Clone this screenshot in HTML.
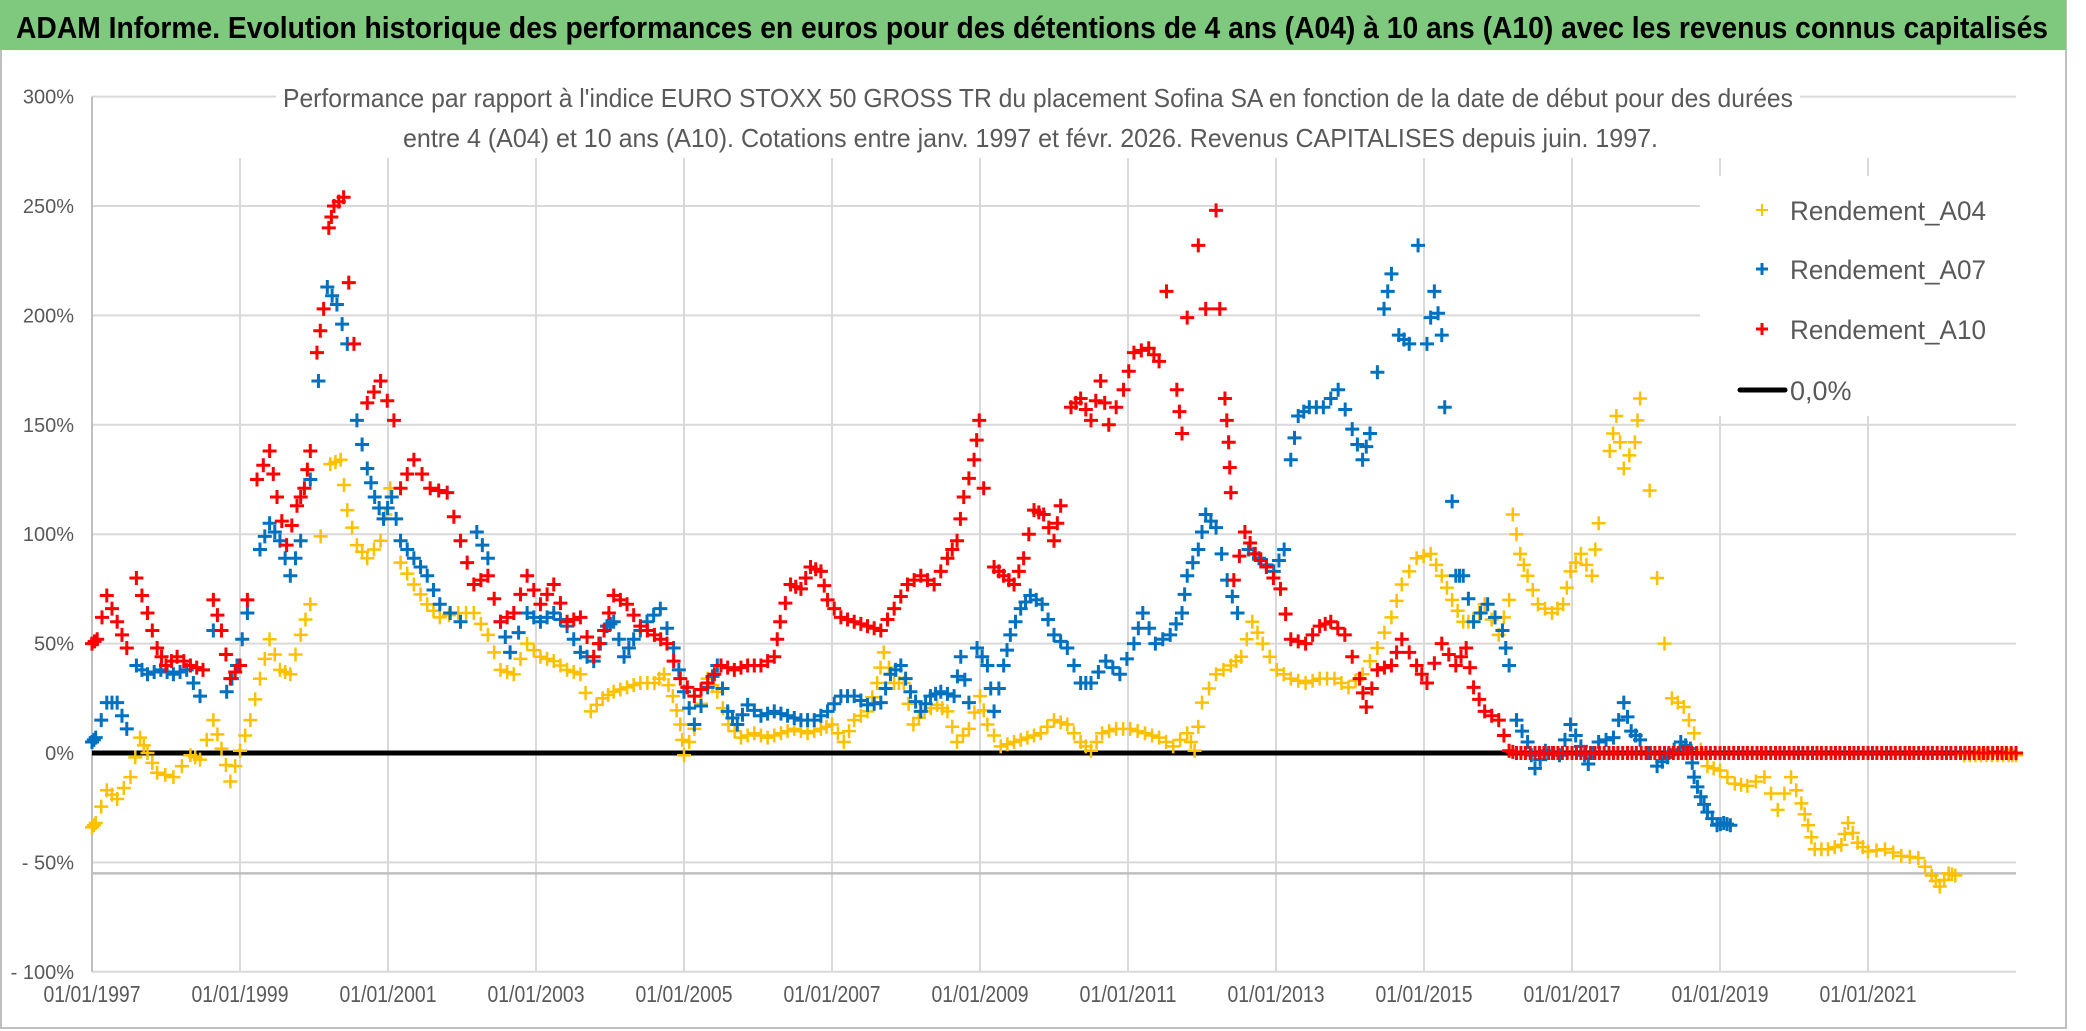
<!DOCTYPE html>
<html><head><meta charset="utf-8"><style>
html,body{margin:0;padding:0;background:#fff;}
svg{display:block;}
text{font-family:"Liberation Sans",sans-serif;}
</style></head><body>
<svg id="chart" width="2086" height="1031" viewBox="0 0 2086 1031" xmlns="http://www.w3.org/2000/svg">
<rect x="0" y="0" width="2086" height="1031" fill="#fff"/>
<rect x="1" y="1" width="2065" height="1027" fill="none" stroke="#bfbfbf" stroke-width="2"/>
<rect x="0" y="0" width="2066" height="50" fill="#7fc97f"/>
<text x="16" y="38" font-size="31" font-weight="bold" fill="#000" textLength="2032" lengthAdjust="spacingAndGlyphs">ADAM Informe. Evolution historique des performances en euros pour des détentions de 4 ans (A04) à 10 ans (A10) avec les revenus connus capitalisés</text>
<g id="grid"></g>
<g id="axes"></g>
<rect x="276" y="78" width="1524" height="78" fill="#fff"/>
<text x="283" y="107" font-size="26" fill="#595959" textLength="1510" lengthAdjust="spacingAndGlyphs">Performance par rapport à l'indice EURO STOXX 50 GROSS TR  du placement Sofina SA en fonction de la date de début pour des durées</text>
<text x="403" y="147" font-size="26" fill="#595959" textLength="1255" lengthAdjust="spacingAndGlyphs">entre 4 (A04) et 10 ans (A10). Cotations entre janv. 1997 et févr. 2026. Revenus CAPITALISES depuis juin. 1997.</text>
<rect x="1700" y="176" width="330" height="240" fill="#fff"/>
<g id="series"></g>
<g id="legend">
  <g>
    <path d="M1756 210h12M1762 204v12" stroke="#ffc000" stroke-width="2"/>
    <text x="1790" y="220" font-size="27" fill="#595959" textLength="196" lengthAdjust="spacingAndGlyphs">Rendement_A04</text>
  </g>
  <g>
    <path d="M1756 269h12M1762 263v12" stroke="#0070c0" stroke-width="3"/>
    <text x="1790" y="279" font-size="27" fill="#595959" textLength="196" lengthAdjust="spacingAndGlyphs">Rendement_A07</text>
  </g>
  <g>
    <path d="M1756 329h12M1762 323v12" stroke="#ff0000" stroke-width="3"/>
    <text x="1790" y="339" font-size="27" fill="#595959" textLength="196" lengthAdjust="spacingAndGlyphs">Rendement_A10</text>
  </g>
  <g>
    <line x1="1740" y1="390" x2="1785" y2="390" stroke="#000" stroke-width="5" stroke-linecap="round"/>
    <text x="1790" y="400" font-size="27" fill="#595959">0,0%</text>
  </g>
</g>
</svg>
<script>
const yTicks=[300,250,200,150,100,50,0,-50,-100];
const yTickLabels=["300%","250%","200%","150%","100%","50%","0%","- 50%","- 100%"];
const xTicks=[1997,1999,2001,2003,2005,2007,2009,2011,2013,2015,2017,2019,2021];
const xTickLabels=["01/01/1997","01/01/1999","01/01/2001","01/01/2003","01/01/2005","01/01/2007","01/01/2009","01/01/2011","01/01/2013","01/01/2015","01/01/2017","01/01/2019","01/01/2021"];
const minLineValue=-55;

const a10Years=[1997.0,1997.07,1997.2,1997.34,1997.47,1997.6,1997.75,1997.88,1998.0,1998.15,1998.33,1998.5,1998.64,1998.75,1998.87,1999.0,1999.1,1999.23,1999.4,1999.5,1999.63,1999.77,1999.87,1999.95,2000.04,2000.13,2000.2,2000.27,2000.4,2000.47,2000.54,2000.72,2000.9,2001.08,2001.17,2001.35,2001.57,2001.8,2001.98,2002.16,2002.35,2002.52,2002.7,2002.88,2003.06,2003.24,2003.42,2003.6,2003.78,2003.92,2004.05,2004.23,2004.41,2004.6,2004.77,2004.95,2005.14,2005.32,2005.5,2005.68,2005.86,2006.04,2006.22,2006.3,2006.44,2006.58,2006.71,2006.85,2006.94,2007.12,2007.3,2007.48,2007.66,2007.84,2008.02,2008.2,2008.38,2008.56,2008.69,2008.78,2008.92,2008.99,2009.05,2009.19,2009.32,2009.46,2009.59,2009.73,2009.86,2010.0,2010.09,2010.23,2010.36,2010.5,2010.63,2010.74,2010.94,2011.08,2011.28,2011.42,2011.52,2011.66,2011.73,2011.8,2011.95,2012.05,2012.19,2012.24,2012.31,2012.36,2012.39,2012.43,2012.58,2012.72,2012.87,2013.06,2013.2,2013.4,2013.59,2013.74,2013.93,2014.13,2014.22,2014.37,2014.56,2014.7,2014.9,2015.04,2015.24,2015.43,2015.57,2015.67,2015.82,2016.01,2016.15,2016.25,2016.37,2016.5,2016.62,2016.75,2016.87,2017.0,2017.12,2017.25,2017.37,2017.5,2017.62,2017.75,2017.87,2018.0,2018.12,2018.25,2018.37,2018.5,2018.62,2018.75,2018.87,2019.0,2019.12,2019.25,2019.37,2019.5,2019.62,2019.75,2019.87,2020.0,2020.12,2020.25,2020.37,2020.5,2020.62,2020.75,2020.87,2021.0,2021.12,2021.25,2021.37,2021.5,2021.62,2021.75,2021.87,2022.0,2022.12,2022.25,2022.37,2022.5,2022.62,2022.75,2022.87,2023.0];
const a10Values=[50,52,72,60,48,80,64,48,40,44,40,38,70,56,34,40,70,125,138,117,95,113,121,138,183,203,240,250,254,215,187,160,170,152,121,134,121,119,97,77,81,60,64,81,68,77,60,62,44,56,72,68,58,54,50,34,26,32,40,38,40,40,44,60,77,75,85,83,70,62,60,58,56,66,77,81,77,89,97,117,134,152,121,85,81,77,89,111,109,97,113,158,162,152,170,150,166,183,185,179,211,166,146,199,232,203,248,203,162,142,119,79,101,91,85,75,52,50,58,60,54,34,21,38,40,52,40,32,50,40,48,30,19,15,1,0,0,0,0,0,0,0,0,0,0,0,0,0,0,0,0,0,0,0,0,0,0,0,0,0,0,0,0,0,0,0,0,0,0,0,0,0,0,0,0,0,0,0,0,0,0,0,0,0,0,0,0,0,0,0,0];

const a07Years=[1997.0,1997.05,1997.2,1997.34,1997.47,1997.6,1997.75,1997.93,1998.1,1998.28,1998.46,1998.64,1998.82,1998.96,1999.1,1999.27,1999.4,1999.54,1999.68,1999.82,1999.95,2000.06,2000.18,2000.31,2000.45,2000.58,2000.72,2000.82,2000.94,2001.05,2001.17,2001.35,2001.53,2001.7,2001.98,2002.2,2002.35,2002.52,2002.65,2002.88,2003.06,2003.24,2003.42,2003.6,2003.78,2003.96,2004.05,2004.19,2004.32,2004.5,2004.68,2004.86,2005.0,2005.14,2005.32,2005.45,2005.59,2005.72,2005.86,2006.04,2006.22,2006.4,2006.58,2006.76,2006.94,2007.12,2007.3,2007.48,2007.66,2007.79,2007.93,2008.06,2008.2,2008.33,2008.47,2008.65,2008.74,2008.85,2008.96,2009.1,2009.19,2009.32,2009.41,2009.55,2009.68,2009.84,2010.0,2010.18,2010.36,2010.5,2010.7,2010.89,2011.08,2011.2,2011.37,2011.57,2011.73,2011.8,2011.95,2012.05,2012.19,2012.34,2012.48,2012.63,2012.77,2012.97,2013.11,2013.2,2013.3,2013.45,2013.64,2013.84,2014.03,2014.17,2014.27,2014.37,2014.46,2014.56,2014.66,2014.8,2014.92,2015.04,2015.14,2015.24,2015.28,2015.38,2015.43,2015.53,2015.67,2015.86,2016.06,2016.15,2016.25,2016.4,2016.5,2016.64,2016.83,2016.98,2017.12,2017.22,2017.36,2017.56,2017.7,2017.8,2017.92,2018.15,2018.29,2018.47,2018.6,2018.65,2018.74,2018.83,2018.96,2019.05,2019.14];
const a07Values=[5,7,23,23,11,40,36,38,36,38,26,56,28,40,64,93,105,97,81,97,125,170,213,205,187,152,130,117,107,117,97,89,81,68,60,101,89,60,46,64,60,64,58,46,42,58,60,44,52,60,66,48,28,13,30,40,19,13,22,17,19,17,15,15,19,26,26,22,23,36,40,28,19,26,28,26,44,23,48,40,19,40,54,66,72,68,54,48,32,32,42,36,50,64,50,54,64,81,93,109,103,79,64,93,89,83,93,134,154,158,158,166,148,134,146,174,203,219,191,187,232,187,211,191,158,115,81,81,60,68,56,40,15,5,-7,1,-1,13,3,-5,5,7,23,10,6,-6,-2,5,2,-11,-20,-27,-33,-32,-33];

const a04Years=[
1997.0,1997.05,1997.2,1997.34,1997.52,1997.65,1997.75,1997.88,
1998.1,1998.33,1998.46,1998.64,1998.75,1998.87,
1999.0,1999.14,1999.27,1999.4,1999.54,1999.68,1999.82,1999.95,
2000.09,2000.22,2000.36,2000.45,2000.58,2000.72,2000.9,
2001.03,2001.17,2001.35,2001.53,2001.7,2001.95,
2002.16,2002.35,2002.52,2002.7,2002.88,
2003.06,2003.24,2003.42,2003.6,2003.74,2003.9,
2004.05,2004.23,2004.41,2004.6,2004.73,2004.85,2004.95,
2005.0,2005.14,2005.32,2005.45,2005.6,2005.77,2005.95,
2006.13,2006.31,2006.49,2006.67,2006.85,
2007.0,2007.16,2007.3,2007.48,2007.61,2007.7,2007.84,2007.97,
2008.1,2008.25,2008.42,2008.56,2008.69,2008.85,
2009.0,2009.1,2009.28,2009.46,2009.64,2009.82,
2010.0,2010.18,2010.36,2010.5,2010.65,2010.84,
2011.03,2011.23,2011.42,2011.61,2011.8,2011.9,
2012.0,2012.19,2012.39,2012.53,2012.68,2012.82,
2013.01,2013.2,2013.4,2013.59,2013.79,2013.98,
2014.17,2014.37,2014.56,2014.7,2014.9,
2015.09,2015.24,2015.38,2015.53,2015.67,2015.82,
2016.01,2016.15,2016.2,2016.3,2016.4,2016.54,2016.73,2016.88,2016.98,
2017.12,2017.27,2017.36,2017.51,2017.6,2017.7,2017.85,2017.92,
2018.05,2018.15,2018.25,2018.35,2018.51,2018.65,2018.83,
2019.0,2019.2,2019.37,2019.6,2019.78,2019.96,
2020.1,2020.19,2020.28,2020.46,2020.64,2020.73,2020.86,
2021.0,2021.23,2021.45,2021.68,2021.86,2021.97,
2022.09,2022.18,2022.3,2022.45,2022.6,2022.75,2022.9,2023.0];
const a04Values=[
-34,-32,-17,-21,-11,7,0,-9,
-11,-1,-3,15,2,-13,
1,15,34,52,38,36,54,68,
99,132,134,111,95,89,97,
121,87,77,68,62,64,
64,54,38,36,50,
44,42,38,36,19,25,
28,30,32,32,36,26,13,
-1,11,34,28,13,7,9,
7,9,11,9,11,
13,5,15,19,32,46,32,32,
13,19,22,19,5,11,
26,13,3,5,7,9,
15,13,5,1,9,11,
11,9,7,3,9,1,
23,36,40,44,60,50,
38,34,32,34,34,30,
36,48,62,77,89,
91,81,70,60,60,68,
54,70,109,91,81,68,64,68,83,
91,81,105,138,154,130,142,162,
120,80,50,25,21,9,-6,
-8,-14,-15,-11,-26,-11,
-23,-33,-44,-44,-42,-32,-41,
-45,-44,-47,-48,-56,-61,
-55,-56,-1,-1,-1,-1,-1,-1];

const NS="http://www.w3.org/2000/svg";
const X0=92, XPER=74, Y0=753, YPER=109.4/50;
function xScale(yr){return X0+(yr-1997)*XPER;}
function yScale(p){return Y0-p*YPER;}
const xMin=xScale(1997), xMax=xScale(2023.0);

const grid=document.getElementById('grid');
const axes=document.getElementById('axes');
yTicks.forEach((t,i)=>{
  const l=document.createElementNS(NS,'line');
  
  
  l.setAttribute('x1',xMin);l.setAttribute('x2',xMax);
  l.setAttribute('y1',yScale(t));l.setAttribute('y2',yScale(t));
  l.setAttribute('stroke','#d9d9d9');l.setAttribute('stroke-width','2');
  grid.appendChild(l);
  const tx=document.createElementNS(NS,'text');
  
  
  tx.setAttribute('x',74);tx.setAttribute('y',yScale(t)+7);
  tx.setAttribute('text-anchor','end');tx.setAttribute('font-size','20');tx.setAttribute('fill','#595959');
  tx.textContent=yTickLabels[i];
  axes.appendChild(tx);
});
xTicks.forEach((t,i)=>{
  const l=document.createElementNS(NS,'line');
  
  
  l.setAttribute('x1',xScale(t));l.setAttribute('x2',xScale(t));
  l.setAttribute('y1',i===0?yScale(300):158);l.setAttribute('y2',yScale(-100));
  l.setAttribute('stroke',i===0?'#bfbfbf':'#d9d9d9');l.setAttribute('stroke-width','2');
  grid.appendChild(l);
  const tx=document.createElementNS(NS,'text');
  
  
  tx.setAttribute('x',xScale(t));tx.setAttribute('y',1002);
  tx.setAttribute('text-anchor','middle');tx.setAttribute('font-size','23');tx.setAttribute('fill','#595959');
  tx.setAttribute('textLength','97');tx.setAttribute('lengthAdjust','spacingAndGlyphs');
  tx.textContent=xTickLabels[i];
  axes.appendChild(tx);
});
const ml=document.createElementNS(NS,'line');


ml.setAttribute('x1',xMin);ml.setAttribute('x2',xMax);
ml.setAttribute('y1',yScale(minLineValue));ml.setAttribute('y2',yScale(minLineValue));
ml.setAttribute('stroke','#bfbfbf');ml.setAttribute('stroke-width','2.5');
grid.appendChild(ml);

const seriesG=document.getElementById('series');
const zl=document.createElementNS(NS,'line');


zl.setAttribute('x1',xMin);zl.setAttribute('x2',xMax);
zl.setAttribute('y1',yScale(0));zl.setAttribute('y2',yScale(0));
zl.setAttribute('stroke','#000');zl.setAttribute('stroke-width','5');
seriesG.appendChild(zl);

function drawSeries(name,years,vals,color,sw){
  const g=document.createElementNS(NS,'g');
  
  
  let d='';
  const s=7;
  const n=Math.min(years.length,vals.length);
  for(let i=0;i<n;i++){
    const cx=xScale(years[i]), cy=yScale(vals[i]);
    d+='M'+(cx-s)+' '+cy+'h'+(2*s)+'M'+cx+' '+(cy-s)+'v'+(2*s);
    if(i<n-1 && Math.abs(vals[i+1]-vals[i])<25){
      const mx=xScale((years[i]+years[i+1])/2), my=yScale((vals[i]+vals[i+1])/2);
      d+='M'+(mx-s)+' '+my+'h'+(2*s)+'M'+mx+' '+(my-s)+'v'+(2*s);
    }
  }
  const p=document.createElementNS(NS,'path');
  
  
  p.setAttribute('d',d);p.setAttribute('stroke',color);p.setAttribute('stroke-width',sw);p.setAttribute('fill','none');
  g.appendChild(p);
  seriesG.appendChild(g);
}
drawSeries('series-a04',a04Years,a04Values,'#ffc000',2.5);
drawSeries('series-a07',a07Years,a07Values,'#0070c0',3);
drawSeries('series-a10',a10Years,a10Values,'#ff0000',3);
</script>
</body></html>
